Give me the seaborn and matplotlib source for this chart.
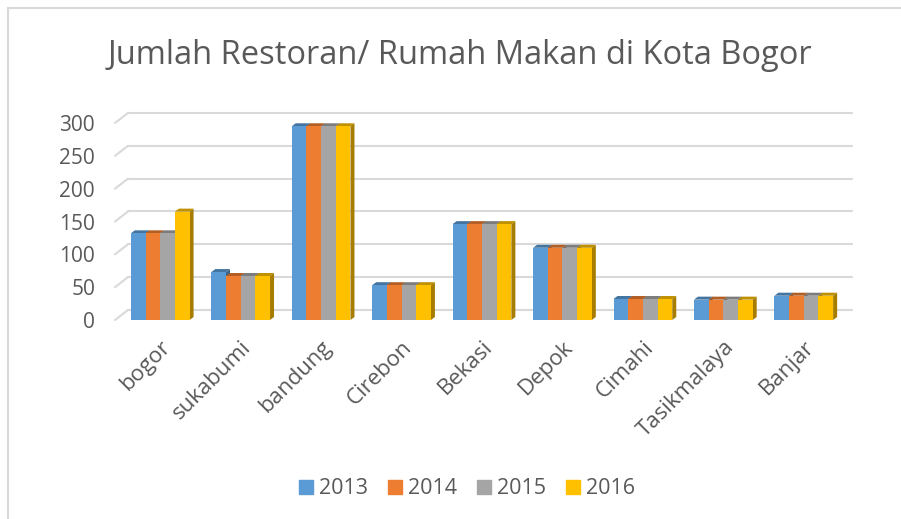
import matplotlib.pyplot as plt
import matplotlib.patches as mpatches
import matplotlib.colors as mcolors
import pandas as pd
import seaborn as sns

sns.set(style='white')
plt.rcParams['font.family'] = ['Open Sans', 'DejaVu Sans']

# data
kota = ["bogor", "sukabumi", "bandung", "Cirebon", "Bekasi",
        "Depok", "Cimahi", "Tasikmalaya", "Banjar"]
tahun = ["2013", "2014", "2015", "2016"]
v2013 = [132, 73, 295, 53, 146, 110, 32, 31, 37]
v2014 = [132, 67, 295, 53, 146, 110, 32, 31, 37]
v2015 = [132, 67, 295, 53, 146, 110, 32, 31, 37]
v2016 = [165, 67, 295, 53, 146, 110, 32, 31, 37]
yticks = [0, 50, 100, 150, 200, 250, 300]

color = ["#5B9BD5", "#ED7D31", "#A5A5A5", "#FFC000"]
txt = '#595959'

df = pd.DataFrame({
    'kota': kota * 4,
    'tahun': [t for t in tahun for _ in kota],
    'nilai': v2013 + v2014 + v2015 + v2016,
})

fig = plt.figure(figsize=(9.01, 5.19), dpi=100)
fig.set_facecolor('white')
W, H = 901, 519
ax = fig.add_axes([120 / W, (H - 320) / H, 724 / W, 197 / H])

sns.barplot(data=df, x='kota', y='nilai', hue='tahun', palette=color,
            width=0.73, saturation=1, ax=ax, legend=False, zorder=3,
            linewidth=0, edgecolor='none')

ax.set_xlim(-0.5, 8.5)
ax.set_ylim(0, 300)
ax.set_xlabel('')
ax.set_ylabel('')
for s in ax.spines.values():
    s.set_visible(False)
ax.set_facecolor('none')

# pixel -> data conversions
px_x = 9 / 724
px_y = 300 / 197

# back-plane gridlines with diagonal stub
for v in yticks:
    y0 = v
    y1 = v + 10 * px_y
    ax.plot([-0.5 - 5 * px_x, -0.5 + 8 * px_x], [y0, y1], color='#D9D9D9',
            lw=1.5, clip_on=False, zorder=1)
    ax.plot([-0.5 + 8 * px_x, 8.5 + 8 * px_x], [y1, y1], color='#D9D9D9',
            lw=1.5, clip_on=False, zorder=1)

# fake 3d: top and side faces
dx, dy = 4 * px_x, 3 * px_y
for p in list(ax.patches):
    x, w, h = p.get_x(), p.get_width(), p.get_height()
    c = mcolors.to_rgb(p.get_facecolor())
    dark = tuple(ch * 0.75 for ch in c)
    darker = tuple(ch * 0.65 for ch in c)
    top = mpatches.Polygon([(x, h), (x + w, h), (x + w + dx, h + dy), (x + dx, h + dy)],
                           closed=True, facecolor=dark, edgecolor='none', zorder=2,
                           clip_on=False)
    side = mpatches.Polygon([(x + w, 0), (x + w + dx, dy), (x + w + dx, h + dy), (x + w, h)],
                            closed=True, facecolor=darker, edgecolor='none', zorder=2,
                            clip_on=False)
    ax.add_patch(top)
    ax.add_patch(side)

ax.set_yticks(yticks)
ax.set_yticklabels([str(t) for t in yticks], fontsize=15, color=txt)
ax.tick_params(axis='y', length=0, pad=18)
ax.set_xticks(range(len(kota)))
ax.set_xticklabels(kota, rotation=45, ha='right', va='top',
                   rotation_mode='anchor', fontsize=16, color=txt)
ax.tick_params(axis='x', length=0, pad=12)

fig.text(460 / W, 1 - 55 / H, 'Jumlah Restoran/ Rumah Makan di Kota Bogor',
         ha='center', va='center', fontsize=23.5, color=txt)

handles = [mpatches.Patch(color=c) for c in color]
fig.legend(handles, tahun, loc='center', bbox_to_anchor=(467 / W, 1 - 489 / H),
           ncol=4, frameon=False, fontsize=15.5, labelcolor=txt,
           handlelength=0.65, handleheight=0.65, handletextpad=0.3,
           columnspacing=0.9)

border = mpatches.Rectangle((8 / W, -0.1), 1.2, 1.1 - 8 / H, transform=fig.transFigure,
                            fill=False, edgecolor='#D9D9D9', lw=1.5)
fig.add_artist(border)

fig.savefig('out.png', dpi=100)
